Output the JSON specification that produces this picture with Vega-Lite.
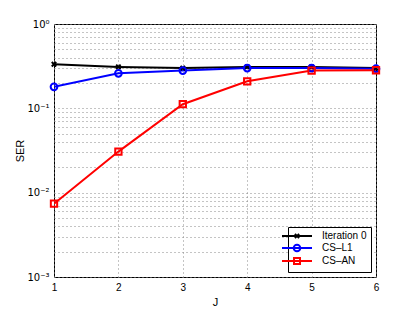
{
  "$schema": "https://vega.github.io/schema/vega-lite/v6.json",
  "width": 322,
  "height": 253,
  "autosize": {"type": "none"},
  "padding": {"left": 54, "top": 24, "right": 39, "bottom": 35},
  "background": "white",
  "config": {
    "view": {"stroke": "black", "strokeWidth": 1},
    "font": "Liberation Sans",
    "axis": {"labelFont": "Liberation Sans", "titleFont": "Liberation Sans", "labelColor": "black", "titleColor": "black", "titleFontWeight": "normal", "domainColor": "black", "tickColor": "black"}
  },
  "data": {"values": [
    {"J": 1, "SER": 0.333, "series": "Iteration 0"},
    {"J": 2, "SER": 0.31, "series": "Iteration 0"},
    {"J": 3, "SER": 0.30, "series": "Iteration 0"},
    {"J": 4, "SER": 0.31, "series": "Iteration 0"},
    {"J": 5, "SER": 0.31, "series": "Iteration 0"},
    {"J": 6, "SER": 0.30, "series": "Iteration 0"},
    {"J": 1, "SER": 0.18, "series": "CS–L1"},
    {"J": 2, "SER": 0.26, "series": "CS–L1"},
    {"J": 3, "SER": 0.28, "series": "CS–L1"},
    {"J": 4, "SER": 0.30, "series": "CS–L1"},
    {"J": 5, "SER": 0.30, "series": "CS–L1"},
    {"J": 6, "SER": 0.295, "series": "CS–L1"},
    {"J": 1, "SER": 0.0074, "series": "CS–AN"},
    {"J": 2, "SER": 0.0307, "series": "CS–AN"},
    {"J": 3, "SER": 0.112, "series": "CS–AN"},
    {"J": 4, "SER": 0.209, "series": "CS–AN"},
    {"J": 5, "SER": 0.28, "series": "CS–AN"},
    {"J": 6, "SER": 0.283, "series": "CS–AN"}
  ]},
  "encoding": {
    "x": {"field": "J", "type": "quantitative", "scale": {"domain": [1, 6], "nice": false, "zero": false},
      "axis": {"values": [1, 2, 3, 4, 5, 6], "title": "J", "labelFontSize": 10, "titleFontSize": 11, "grid": true, "gridDash": [1, 3], "gridColor": "#888888", "gridOpacity": 1, "tickSize": 0, "labelPadding": 5, "titlePadding": 4, "domain": false, "labelFlush": false}},
    "y": {"field": "SER", "type": "quantitative", "scale": {"type": "log", "domain": [0.001, 1], "nice": false},
      "axis": {"values": [0.001, 0.002, 0.003, 0.004, 0.005, 0.006, 0.007, 0.008, 0.009, 0.01, 0.02, 0.03, 0.04, 0.05, 0.06, 0.07, 0.08, 0.09, 0.1, 0.2, 0.3, 0.4, 0.5, 0.6, 0.7, 0.8, 0.9, 1],
        "labelExpr": "datum.value == 1 ? '10⁰' : abs(datum.value - 0.1) < 1e-9 ? '10⁻¹' : abs(datum.value - 0.01) < 1e-10 ? '10⁻²' : abs(datum.value - 0.001) < 1e-11 ? '10⁻³' : ''",
        "title": "SER", "labelFont": "DejaVu Sans", "labelFontSize": 10, "titleFontSize": 11, "grid": true, "gridDash": [1, 3], "gridColor": "#888888", "gridOpacity": 1, "tickSize": 0, "labelPadding": 5, "titlePadding": 1, "domain": false, "labelFlush": false}},
    "color": {"field": "series", "type": "nominal", "scale": {"domain": ["Iteration 0", "CS–L1", "CS–AN"], "range": ["#000000", "#0000ff", "#ff0000"]}, "title": null,
      "legend": {"orient": "bottom-right", "offset": 5, "strokeColor": "black", "fillColor": "white", "padding": 4, "labelFontSize": 10, "labelColor": "black", "labelFont": "Liberation Sans", "rowPadding": -3, "labelOffset": 20,
        "symbolSize": 36, "symbolStrokeWidth": 2,
        "symbolType": "M-5,0H5",
        "encode": {"symbols": {"update": {
          "shape": {"signal": "datum.value == 'Iteration 0' ? 'M-5,0H5M-0.7,-0.7L0.7,0.7M-0.7,0.7L0.7,-0.7' : datum.value == 'CS–L1' ? 'M-5,0H5M-1.1,0a1.1,1.1 0 1,0 2.2,0a1.1,1.1 0 1,0 -2.2,0' : 'M-5,0H5M-1,-1h2v2h-2Z'"},
          "fill": {"value": "white"},
          "fillOpacity": {"value": 0}
        }}}}}
  },
  "layer": [
    {"mark": {"type": "line", "strokeWidth": 2, "clip": true}},
    {"transform": [{"filter": "datum.series == 'Iteration 0'"}],
      "mark": {"type": "point", "filled": false, "strokeWidth": 2, "opacity": 1, "shape": "M-1,-1L1,1M-1,1L1,-1", "size": 20}},
    {"transform": [{"filter": "datum.series == 'CS–L1'"}],
      "mark": {"type": "point", "filled": false, "strokeWidth": 2, "opacity": 1, "shape": "circle", "size": 45}},
    {"transform": [{"filter": "datum.series == 'CS–AN'"}],
      "mark": {"type": "point", "filled": false, "strokeWidth": 2, "opacity": 1, "shape": "square", "size": 40}}
  ]
}
